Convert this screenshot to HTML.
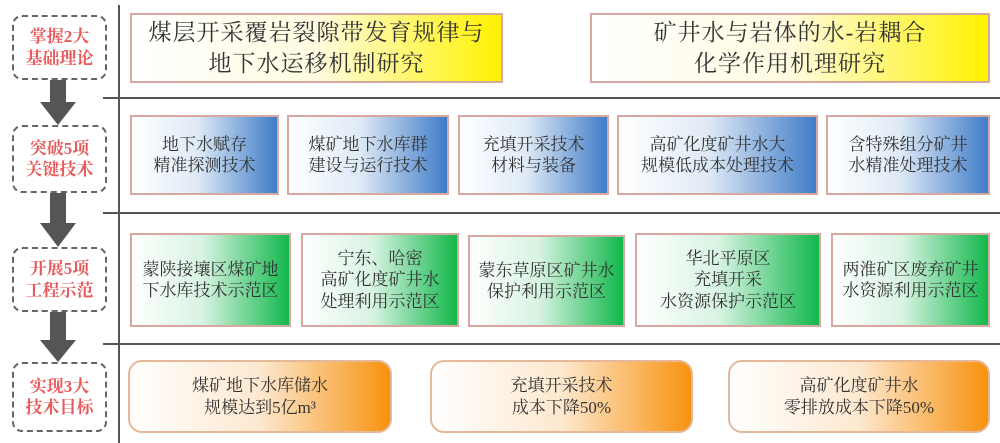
<!DOCTYPE html>
<html><head><meta charset="utf-8"><style>
*{margin:0;padding:0;box-sizing:border-box}
body{width:1000px;height:443px;background:#fff;position:relative;overflow:hidden;font-family:"Liberation Serif","Noto Serif CJK SC","Noto Sans CJK SC",serif;color:#333}
.a{position:absolute;display:flex;align-items:center;justify-content:center;text-align:center;line-height:1.25}
.l{border:2px dashed #666;border-radius:10px;color:#e85a5a;font-size:17px;background:#fff;font-weight:bold}
.y{border:2px solid #d7a8a0;background:linear-gradient(90deg,#fff 0%,#fffbe0 50%,#fff200 100%);font-size:23px;line-height:1.35;letter-spacing:1px}
.b{border:2px solid #d7a8a0;background:linear-gradient(90deg,#fff 0%,#dfeaf6 45%,#3f7cc8 100%);font-size:17px}
.g{border:2px solid #d7a8a0;background:linear-gradient(90deg,#fff 0%,#d8f3e2 45%,#12b84c 100%);font-size:17px}
.o{border:2px solid #e6b89a;border-radius:14px;background:linear-gradient(90deg,#fff 0%,#fde8cf 50%,#f7920f 100%);font-size:17px}
.h{position:absolute;left:103px;width:897px;height:2px;background:#555}
.v{position:absolute;left:118px;top:5px;width:2px;height:438px;background:#555}
.ar{position:absolute;left:38px}
</style></head><body>
<div class="v"></div>
<div class="h" style="top:97px"></div>
<div class="h" style="top:212px"></div>
<div class="h" style="top:343px"></div>

<div class="a l" style="left:12px;top:15px;width:95px;height:65px">掌握2大<br>基础理论</div>
<div class="a l" style="left:12px;top:125px;width:95px;height:68px">突破5项<br>关键技术</div>
<div class="a l" style="left:12px;top:247px;width:95px;height:65px">开展5项<br>工程示范</div>
<div class="a l" style="left:12px;top:362px;width:95px;height:70px">实现3大<br>技术目标</div>

<svg class="ar" style="top:80px" width="40" height="45"><polygon points="12,0 28,0 28,22 38,22 20,45 2,22 12,22" fill="#555"/></svg>
<svg class="ar" style="top:193px" width="40" height="54"><polygon points="12,0 28,0 28,30 38,30 20,54 2,30 12,30" fill="#555"/></svg>
<svg class="ar" style="top:312px" width="40" height="50"><polygon points="12,0 28,0 28,28 38,28 20,50 2,28 12,28" fill="#555"/></svg>

<div class="a y" style="left:130px;top:13px;width:373px;height:70px">煤层开采覆岩裂隙带发育规律与<br>地下水运移机制研究</div>
<div class="a y" style="left:590px;top:13px;width:400px;height:70px">矿井水与岩体的水-岩耦合<br>化学作用机理研究</div>

<div class="a b" style="left:130px;top:115px;width:149px;height:80px">地下水赋存<br>精准探测技术</div>
<div class="a b" style="left:287px;top:115px;width:162px;height:80px">煤矿地下水库群<br>建设与运行技术</div>
<div class="a b" style="left:458px;top:115px;width:151px;height:80px">充填开采技术<br>材料与装备</div>
<div class="a b" style="left:617px;top:115px;width:201px;height:80px">高矿化度矿井水大<br>规模低成本处理技术</div>
<div class="a b" style="left:826px;top:115px;width:164px;height:80px">含特殊组分矿井<br>水精准处理技术</div>

<div class="a g" style="left:130px;top:233px;width:161px;height:94px">蒙陕接壤区煤矿地<br>下水库技术示范区</div>
<div class="a g" style="left:301px;top:233px;width:158px;height:94px">宁东、哈密<br>高矿化度矿井水<br>处理利用示范区</div>
<div class="a g" style="left:468px;top:235px;width:157px;height:92px">蒙东草原区矿井水<br>保护利用示范区</div>
<div class="a g" style="left:635px;top:233px;width:186px;height:94px">华北平原区<br>充填开采<br>水资源保护示范区</div>
<div class="a g" style="left:831px;top:233px;width:159px;height:94px">两淮矿区废弃矿井<br>水资源利用示范区</div>

<div class="a o" style="left:128px;top:360px;width:264px;height:73px">煤矿地下水库储水<br>规模达到5亿m³</div>
<div class="a o" style="left:430px;top:360px;width:263px;height:73px">充填开采技术<br>成本下降50%</div>
<div class="a o" style="left:728px;top:360px;width:262px;height:73px">高矿化度矿井水<br>零排放成本下降50%</div>
</body></html>
